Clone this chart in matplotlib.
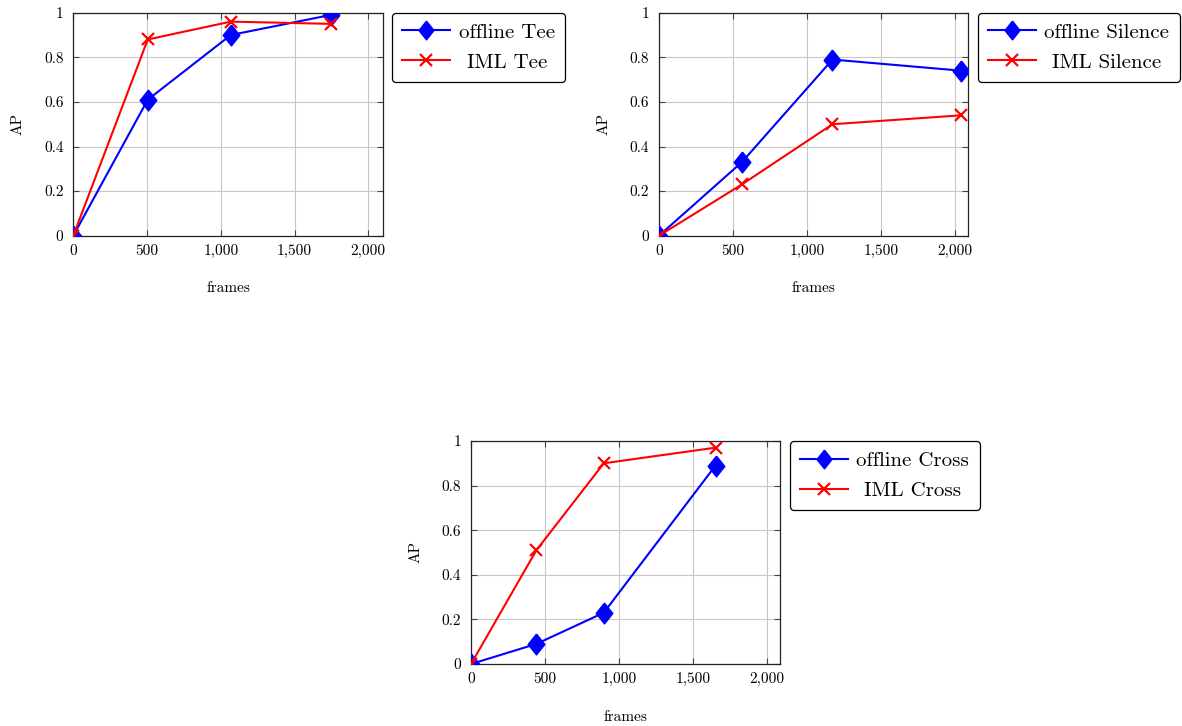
import matplotlib
matplotlib.use("Agg")
import matplotlib.pyplot as plt
from matplotlib.ticker import FuncFormatter, MultipleLocator
from matplotlib.transforms import Affine2D

plt.rcParams['font.family'] = 'serif'
plt.rcParams['font.serif'] = ['cmr10', 'DejaVu Serif']
plt.rcParams['axes.formatter.use_mathtext'] = True

# frames / AP values
tee_x = [0, 505, 1068, 1746]
tee_offline = [0.0, 0.61, 0.90, 0.99]
tee_iml = [0.0, 0.88, 0.96, 0.95]

sil_x = [0, 560, 1172, 2042]
sil_offline = [0.0, 0.33, 0.79, 0.74]
sil_iml = [0.0, 0.23, 0.50, 0.54]

cross_x = [0, 442, 898, 1654]
cross_offline = [0.0, 0.09, 0.23, 0.89]
cross_iml = [0.0, 0.51, 0.90, 0.97]

panels = [
    ("Tee", tee_x, tee_offline, tee_iml, [0.0620, 0.6753, 0.2618, 0.3072], 2098),
    ("Silence", sil_x, sil_offline, sil_iml, [0.5575, 0.6753, 0.2618, 0.3072], 2090),
    ("Cross", cross_x, cross_offline, cross_iml, [0.3985, 0.0854, 0.2618, 0.3072], 2093),
]

# pgfplots style diamond, a bit wider than matplotlib's "d"
diamond = [(0, 1), (0.8, 0), (0, -1), (-0.8, 0), (0, 1)]


def yfmt(v, p):
    v = round(v, 1)
    if v == 0:
        return "0"
    if v == 1:
        return "1"
    return f"{v:.1f}"


fig = plt.figure(figsize=(11.82, 7.26), dpi=100)
legends = []

for name, xs, off, iml, pos, xmax in panels:
    ax = fig.add_axes(pos)
    ax.plot(xs, off, color="blue", lw=1.5, marker=diamond, ms=15,
            label="offline " + name, zorder=3)
    ax.plot(xs, iml, color="red", lw=1.5, marker="x", ms=9, mew=1.6,
            label="IML " + name, zorder=4)
    ax.set_xlim(0, xmax)
    ax.set_ylim(0, 1)
    ax.xaxis.set_major_locator(MultipleLocator(500))
    ax.yaxis.set_major_locator(MultipleLocator(0.2))
    ax.xaxis.set_major_formatter(FuncFormatter(lambda v, p: f"{int(round(v)):,}"))
    ax.yaxis.set_major_formatter(FuncFormatter(yfmt))
    ax.grid(True, color="#c8c8c8", lw=0.8)
    ax.set_axisbelow(True)
    ax.tick_params(direction="in", top=True, right=True, labelsize=11,
                   length=4, color="#444444")
    ax.tick_params(axis="x", pad=6)
    ax.tick_params(axis="y", pad=7)
    for s in ax.spines.values():
        s.set_linewidth(0.9)
        s.set_color("#222222")
    ax.set_xlabel("frames", fontsize=11, labelpad=17)
    ax.set_ylabel("AP", fontsize=11, labelpad=14)
    for t in ax.get_xticklabels() + ax.get_yticklabels():
        t.set_clip_on(False)
    leg = ax.legend(loc="upper left", bbox_to_anchor=(1.03, 1.0), fontsize=15,
                    frameon=True, fancybox=True, edgecolor="black",
                    handlelength=2.3, borderpad=0.5, labelspacing=0.55,
                    handletextpad=0.4, borderaxespad=0, markerscale=0.9)
    leg.get_frame().set_linewidth(0.9)
    leg.get_frame().set_alpha(1)
    legends.append(leg)

# centre the legend labels in their column like pgfplots does
fig.canvas.draw()
r = fig.canvas.get_renderer()
for leg in legends:
    texts = leg.get_texts()
    widths = [t.get_window_extent(r).width for t in texts]
    wmax = max(widths)
    for t, w in zip(texts, widths):
        if w < wmax:
            t.set_transform(t.get_transform() + Affine2D().translate((wmax - w) / 2, 0))

fig.savefig("out.png", dpi=100)
